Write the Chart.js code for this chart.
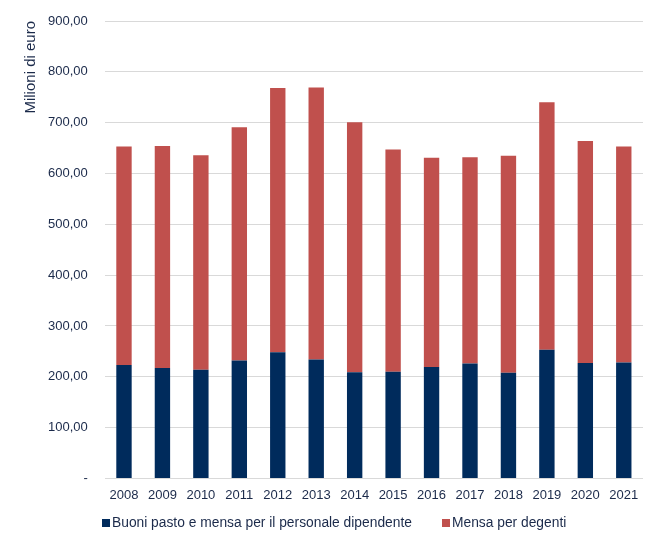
<!DOCTYPE html>
<html lang="it">
<head>
  <meta charset="UTF-8" />
  <title>Buoni pasto e mensa</title>
  <script src="https://cdn.jsdelivr.net/npm/chart.js@4.4.1/dist/chart.umd.min.js"></script>
  <style>
    body { margin: 0; background: #ffffff; }
    #wrap { position: relative; width: 660px; height: 541px; }
    #legend {
      position: absolute; left: 0; top: 514px; width: 660px;
      font-family: 'Liberation Sans', Arial, sans-serif; font-size: 13.8px; color: #1b2a4a;
    }
    #legend span.item { position: absolute; top: 0; white-space: nowrap; line-height: 18px; }
    #legend span.box { display: inline-block; width: 8px; height: 8px; margin-right: 2px; vertical-align: 0px; }
  </style>
</head>
<body>
  <div id="wrap">
    <canvas id="chart" width="660" height="541"></canvas>
    <div id="legend"></div>
  </div>
  <script>
    const years = ['2008', '2009', '2010', '2011', '2012', '2013', '2014', '2015', '2016', '2017', '2018', '2019', '2020', '2021'];
    const buoniPasto = [223, 217, 214, 232, 248, 234, 209, 210, 219, 226, 208, 253, 227, 228];
    const mensaDegenti = [430, 437, 422, 459, 520, 535, 492, 437, 412, 406, 427, 487, 437, 425];
    const yTicks = [0, 100, 200, 300, 400, 500, 600, 700, 800, 900];
    const seriesNames = ['Buoni pasto e mensa per il personale dipendente', 'Mensa per degenti'];
    const seriesColors = ['#002b5c', '#c0504d'];

    const textColor = '#1b2a4a';
    const font = { family: 'Liberation Sans, Arial, sans-serif', size: 13 };

    const chart = new Chart(document.getElementById('chart'), {
      type: 'bar',
      data: {
        labels: years,
        datasets: [
          { label: seriesNames[0], data: buoniPasto, backgroundColor: seriesColors[0] },
          { label: seriesNames[1], data: mensaDegenti, backgroundColor: seriesColors[1] }
        ]
      },
      options: {
        responsive: false,
        animation: false,
        layout: { padding: { top: 21, right: 17, left: 22, bottom: 37 } },
        datasets: { bar: { categoryPercentage: 1, barPercentage: 0.40 } },
        plugins: {
          tooltip: { enabled: false },
          legend: { display: false }
        },
        scales: {
          x: {
            stacked: true,
            grid: { display: false },
            border: { display: false },
            ticks: { color: textColor, font: font, maxRotation: 0, padding: 1 }
          },
          y: {
            stacked: true,
            min: 0,
            max: 900,
            afterBuildTicks: axis => { axis.ticks = yTicks.map(v => ({ value: v })); },
            grid: { color: '#d9d9d9', drawTicks: true, tickLength: 15, tickColor: '#ffffff' },
            border: { display: false },
            ticks: {
              color: textColor,
              font: font,
              padding: 2,
              callback: v => v === 0 ? '-' : v.toFixed(2).replace('.', ',')
            },
            title: {
              display: true,
              text: 'Milioni di euro',
              align: 'end',
              color: textColor,
              font: { family: 'Liberation Sans, Arial, sans-serif', size: 15 },
              padding: { top: 0, bottom: 6 }
            }
          }
        }
      }
    });

    // legend drawn as HTML so the wide gap between the two entries can be kept
    const legendPos = [102, 442];
    const legend = document.getElementById('legend');
    chart.data.datasets.forEach((ds, i) => {
      const item = document.createElement('span');
      item.className = 'item';
      item.style.left = legendPos[i] + 'px';
      item.innerHTML = '<span class="box" style="background:' + ds.backgroundColor + '"></span>' + ds.label;
      legend.appendChild(item);
    });
  </script>
</body>
</html>
